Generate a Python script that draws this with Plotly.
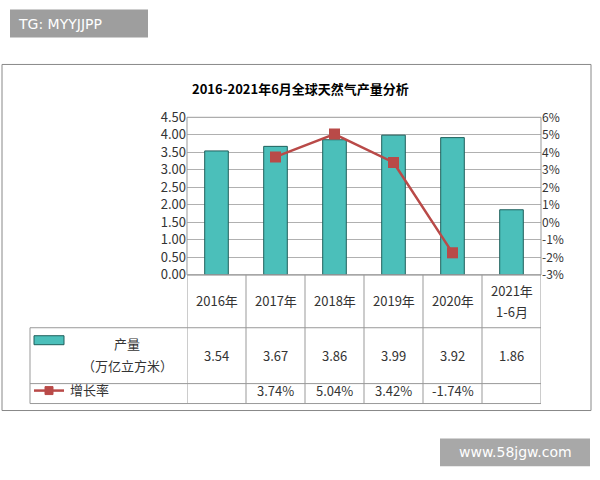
import plotly.graph_objects as go

cats = ['2016年', '2017年', '2018年', '2019年', '2020年', '2021年<br>1-6月']
output = [3.54, 3.67, 3.86, 3.99, 3.92, 1.86]
growth = [None, 3.74, 5.04, 3.42, -1.74, None]
left_ticks = [0, 0.5, 1, 1.5, 2, 2.5, 3, 3.5, 4, 4.5]
right_ticks = [-3, -2, -1, 0, 1, 2, 3, 4, 5, 6]

W, H = 600, 480
def px(x): return x / W
# vertical correction measured from an earlier render
def py(y): return 1 - ((y - 10.4) / 0.963) / H

FONT = 'Noto Sans CJK SC'
bar_c = '#4BBFBA'
line_c = '#B94A48'
xs = list(range(len(cats)))

fig = go.Figure()
fig.add_trace(go.Bar(x=xs, y=output, width=0.4, marker_color=bar_c,
                     marker_line_color='#1F5F5C', marker_line_width=1, showlegend=False))
fig.add_trace(go.Scatter(x=xs, y=growth, yaxis='y2', mode='lines+markers',
                         line=dict(color=line_c, width=2.5),
                         marker=dict(symbol='square', size=11, color=line_c),
                         showlegend=False))

shapes = []
ann = []
grey = '#999999'
shapes.append(dict(type='rect', xref='paper', yref='paper', x0=px(2), x1=px(591),
                   y0=py(412), y1=py(65), line=dict(color='#888888', width=1)))
shapes.append(dict(type='rect', xref='paper', yref='paper', x0=px(187), x1=px(541),
                   y0=py(276), y1=py(118), line=dict(color=grey, width=1)))
for y, x0 in [(276, 187), (329, 30), (385, 30), (405, 30)]:
    shapes.append(dict(type='line', xref='paper', yref='paper', x0=px(x0), x1=px(541),
                       y0=py(y), y1=py(y), line=dict(color=grey, width=1)))
for i in range(len(cats) + 1):
    shapes.append(dict(type='line', xref='x', yref='paper', x0=i - 0.5, x1=i - 0.5,
                       y0=py(405), y1=py(276), line=dict(color=grey, width=1)))
shapes.append(dict(type='line', xref='paper', yref='paper', x0=px(30), x1=px(30),
                   y0=py(405), y1=py(329), line=dict(color=grey, width=1)))
# legend keys
shapes.append(dict(type='rect', xref='paper', yref='paper', x0=px(34), x1=px(64),
                   y0=py(346), y1=py(337), fillcolor=bar_c, line=dict(color='#1F5F5C', width=1)))
shapes.append(dict(type='line', xref='paper', yref='paper', x0=px(34), x1=px(64),
                   y0=py(392), y1=py(392), line=dict(color=line_c, width=2.5)))
shapes.append(dict(type='rect', xref='paper', yref='paper', x0=px(45), x1=px(53),
                   y0=py(396), y1=py(388), fillcolor=line_c, line=dict(color=line_c, width=1)))

tf = dict(family=FONT, size=13, color='#333333')
def note(x, y, text, xref='paper', font=tf, xanchor='center'):
    ann.append(dict(x=x, y=py(y), xref=xref, yref='paper', text=text, showarrow=False,
                    font=font, xanchor=xanchor, yanchor='middle'))

for i, c in enumerate(cats):
    parts = c.split('<br>')
    if len(parts) == 1:
        note(i, 302, c, xref='x')
    else:
        note(i, 292, parts[0], xref='x')
        note(i, 313, parts[1], xref='x')
    note(i, 357, f'{output[i]:.2f}', xref='x')
    if growth[i] is not None:
        note(i, 392, f'{growth[i]:.2f}%', xref='x')
note(px(127), 345, '产量')
note(px(127), 367, '（万亿立方米）')
note(px(68), 391, '增长率', xanchor='left')
note(px(300), 89, '<b>2016-2021年6月全球天然气产量分析</b>',
     font=dict(family=FONT, size=13, color='black'))
# watermarks
shapes.append(dict(type='rect', xref='paper', yref='paper', x0=px(10), x1=px(148),
                   y0=py(38), y1=py(10), fillcolor='#9E9E9E', line_width=0))
note(px(16), 24, 'TG: MYYJJPP', xanchor='left',
     font=dict(family='DejaVu Sans', size=14, color='white'))
shapes.append(dict(type='rect', xref='paper', yref='paper', x0=px(440), x1=px(590),
                   y0=py(468), y1=py(440), fillcolor='#A8A8A8', line_width=0))
note(px(515), 454, 'www.58jgw.com', font=dict(family='DejaVu Sans', size=14, color='white'))

fig.update_layout(
    width=W, height=H, margin=dict(l=0, r=0, t=0, b=0),
    paper_bgcolor='white', plot_bgcolor='white', bargap=0.6,
    font=dict(family=FONT, size=12, color='#333333'),
    xaxis=dict(domain=[px(187), px(541)], range=[-0.5, 5.5], showticklabels=False,
               showgrid=False, zeroline=False, fixedrange=True),
    yaxis=dict(domain=[py(276), py(118)], range=[0, 4.5], tickvals=left_ticks,
               ticktext=[f'{v:.2f}' for v in left_ticks], showgrid=True,
               gridcolor='#B0B0B0', zeroline=False, ticks='', tickfont=dict(size=13)),
    yaxis2=dict(overlaying='y', side='right', range=[-3, 6], tickvals=right_ticks,
                ticktext=[f'{v}%' for v in right_ticks], showgrid=False, zeroline=False,
                tickfont=dict(size=12)),
    shapes=shapes, annotations=ann,
)
fig.write_html('out.html', config={'displayModeBar': False})

with open('out.html', encoding='utf-8') as f:
    page = f.read()
page = page.replace('<body>', '<body style="margin:0;overflow:hidden">', 1)
with open('out.html', 'w', encoding='utf-8') as f:
    f.write(page)
